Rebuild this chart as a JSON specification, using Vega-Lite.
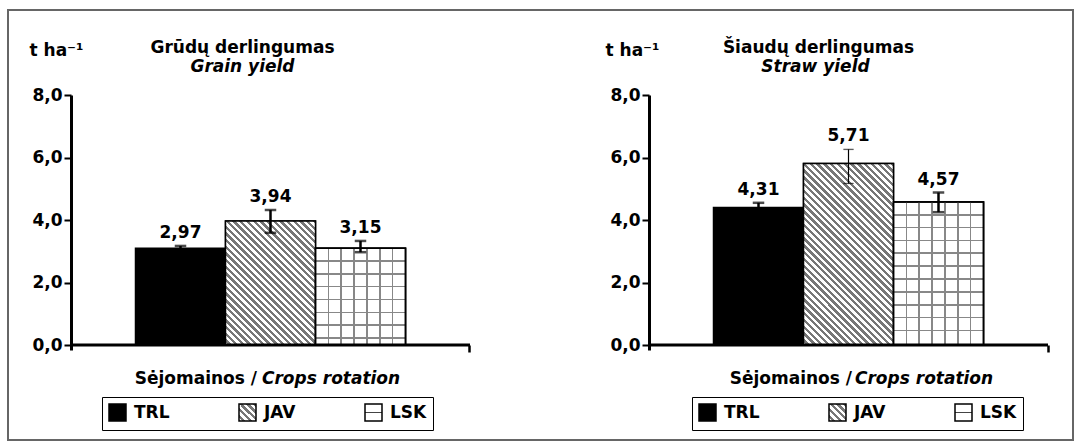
{
"$schema": "https://vega.github.io/schema/vega-lite/v6.json",
"width": 1065, "height": 430,
"autosize": {"type": "none"},
"padding": {"left": 8, "top": 10, "right": 7, "bottom": 8},
"background": "white",
"params": [
{"name": "javLegend", "value": {"gradient": "linear", "x1": 0, "y1": 1, "x2": 1, "y2": 0, "stops": [
{"offset":0,"color":"#fff"},{"offset":0.1,"color":"#fff"},{"offset":0.1,"color":"#777"},{"offset":0.2,"color":"#777"},
{"offset":0.2,"color":"#fff"},{"offset":0.3,"color":"#fff"},{"offset":0.3,"color":"#777"},{"offset":0.4,"color":"#777"},
{"offset":0.4,"color":"#fff"},{"offset":0.5,"color":"#fff"},{"offset":0.5,"color":"#777"},{"offset":0.6,"color":"#777"},
{"offset":0.6,"color":"#fff"},{"offset":0.7,"color":"#fff"},{"offset":0.7,"color":"#777"},{"offset":0.8,"color":"#777"},
{"offset":0.8,"color":"#fff"},{"offset":0.9,"color":"#fff"},{"offset":0.9,"color":"#777"},{"offset":1,"color":"#777"}]}},
{"name": "lskLegend", "value": {"gradient": "linear", "x1": 0, "y1": 0, "x2": 0, "y2": 1, "stops": [
{"offset":0,"color":"#fff"},{"offset":0.46,"color":"#fff"},{"offset":0.46,"color":"#444"},{"offset":0.54,"color":"#444"},{"offset":0.54,"color":"#fff"},{"offset":1,"color":"#fff"}]}}
],
"datasets": {"yields": [
{"panel": "Grūdų derlingumas", "crop": "TRL", "value": 3.10, "lo": 3.03, "hi": 3.17, "label": "2,97"},
{"panel": "Grūdų derlingumas", "crop": "JAV", "value": 3.97, "lo": 3.59, "hi": 4.32, "label": "3,94"},
{"panel": "Grūdų derlingumas", "crop": "LSK", "value": 3.10, "lo": 2.97, "hi": 3.33, "label": "3,15"},
{"panel": "Šiaudų derlingumas", "crop": "TRL", "value": 4.40, "lo": 4.25, "hi": 4.55, "label": "4,31"},
{"panel": "Šiaudų derlingumas", "crop": "JAV", "value": 5.81, "lo": 5.17, "hi": 6.26, "label": "5,71"},
{"panel": "Šiaudų derlingumas", "crop": "LSK", "value": 4.58, "lo": 4.25, "hi": 4.88, "label": "4,57"}
]},
"data": {"name": "yields"},
"layer": [
{
"transform": [{"filter": "datum.panel === 'Grūdų derlingumas'"}],
"mark": {"type": "bar", "stroke": "black", "strokeWidth": 1.5},
"encoding": {
"x": {"field": "panel", "type": "nominal",
"scale": {"domain": ["Grūdų derlingumas", "Šiaudų derlingumas"], "range": [63, 1040], "paddingInner": 0.3097, "paddingOuter": 0},
"axis": {"orient": "bottom", "offset": -95, "domain": false, "labels": false, "ticks": true, "tickSize": 7, "tickWidth": 2.5, "tickColor": "black", "bandPosition": 1, "title": null}},
"xOffset": {"field": "crop", "type": "nominal", "scale": {"domain": ["TRL", "JAV", "LSK"], "paddingInner": 0, "paddingOuter": 0.7167}},
"y": {"field": "value", "type": "quantitative", "scale": {"domain": [-0.16, 8], "range": [340, 85], "nice": false, "zero": false},
"axis": {"orient": "left", "offset": -63, "values": [0, 2, 4, 6, 8], "labelExpr": "replace(format(datum.value, '.1f'), '.', ',')", "domainColor": "black", "domainWidth": 3, "tickColor": "black", "tickWidth": 2, "tickSize": 7, "labelPadding": 2, "title": "t ha⁻¹", "titleAngle": 0, "titleAlign": "left", "titleBaseline": "alphabetic", "titleX": -42, "titleY": 45}},
"y2": {"datum": 0},
"fill": {"field": "crop", "type": "nominal", "scale": {"domain": ["TRL", "JAV", "LSK"], "range": ["black", {"expr": "javLegend"}, {"expr": "lskLegend"}]},
"legend": {"orient": "none", "legendX": 94, "legendY": 387, "direction": "horizontal", "columns": 3, "title": null, "strokeColor": "black", "padding": 6, "columnPadding": 66, "symbolType": "square", "symbolSize": 289, "symbolStrokeColor": "black", "symbolStrokeWidth": 1.5, "labelOffset": 7, "gridAlign": "each"}}
}
},
{
"transform": [{"filter": "datum.panel === 'Šiaudų derlingumas'"}],
"mark": {"type": "bar", "stroke": "black", "strokeWidth": 1.5},
"encoding": {
"x": {"field": "panel", "type": "nominal",
"axis": {"orient": "bottom", "offset": -95, "domain": false, "ticks": false, "tickSize": 0, "labelExpr": "'Crops rotation'", "labelFontStyle": "italic", "labelAlign": "left", "labelBaseline": "alphabetic", "labelPadding": 38, "labelAngle": 0, "labelOverlap": false, "labelFlush": false, "bandPosition": 0.5,
"labelOffset": {"condition": {"test": "datum.value === 'Grūdų derlingumas'", "value": -8.5}, "value": 6.5}, "title": null}},
"xOffset": {"field": "crop", "type": "nominal"},
"y": {"field": "value", "type": "quantitative",
"axis": {"orient": "left", "offset": -641, "values": [0, 2, 4, 6, 8], "labelExpr": "replace(format(datum.value, '.1f'), '.', ',')", "domainColor": "black", "domainWidth": 3, "tickColor": "black", "tickWidth": 2, "tickSize": 7, "labelPadding": 2, "title": "t ha⁻¹", "titleAngle": 0, "titleAlign": "left", "titleBaseline": "alphabetic", "titleX": -44, "titleY": 45}},
"y2": {"datum": 0},
"fill": {"field": "crop", "type": "nominal", "scale": {"domain": ["TRL", "JAV", "LSK"], "range": ["black", {"expr": "javLegend"}, {"expr": "lskLegend"}]},
"legend": {"orient": "none", "legendX": 684, "legendY": 387, "direction": "horizontal", "columns": 3, "title": null, "strokeColor": "black", "padding": 6, "columnPadding": 66, "symbolType": "square", "symbolSize": 289, "symbolStrokeColor": "black", "symbolStrokeWidth": 1.5, "labelOffset": 7, "gridAlign": "each"}}
}
},
{
"transform": [{"filter": "datum.panel === 'Grūdų derlingumas' && datum.crop === 'JAV'"}],
"mark": {"type": "bar", "stroke": "black", "strokeWidth": 1.5, "fill": {"gradient": "linear", "x1": 0, "y1": 1, "x2": 0.8201, "y2": -0.1305, "stops": [
{"offset":0,"color":"#fff"},{"offset":0.015625,"color":"#fff"},{"offset":0.015625,"color":"#777"},{"offset":0.03125,"color":"#777"},
{"offset":0.03125,"color":"#fff"},{"offset":0.046875,"color":"#fff"},{"offset":0.046875,"color":"#777"},{"offset":0.0625,"color":"#777"},
{"offset":0.0625,"color":"#fff"},{"offset":0.078125,"color":"#fff"},{"offset":0.078125,"color":"#777"},{"offset":0.09375,"color":"#777"},
{"offset":0.09375,"color":"#fff"},{"offset":0.109375,"color":"#fff"},{"offset":0.109375,"color":"#777"},{"offset":0.125,"color":"#777"},
{"offset":0.125,"color":"#fff"},{"offset":0.140625,"color":"#fff"},{"offset":0.140625,"color":"#777"},{"offset":0.15625,"color":"#777"},
{"offset":0.15625,"color":"#fff"},{"offset":0.171875,"color":"#fff"},{"offset":0.171875,"color":"#777"},{"offset":0.1875,"color":"#777"},
{"offset":0.1875,"color":"#fff"},{"offset":0.203125,"color":"#fff"},{"offset":0.203125,"color":"#777"},{"offset":0.21875,"color":"#777"},
{"offset":0.21875,"color":"#fff"},{"offset":0.234375,"color":"#fff"},{"offset":0.234375,"color":"#777"},{"offset":0.25,"color":"#777"},
{"offset":0.25,"color":"#fff"},{"offset":0.265625,"color":"#fff"},{"offset":0.265625,"color":"#777"},{"offset":0.28125,"color":"#777"},
{"offset":0.28125,"color":"#fff"},{"offset":0.296875,"color":"#fff"},{"offset":0.296875,"color":"#777"},{"offset":0.3125,"color":"#777"},
{"offset":0.3125,"color":"#fff"},{"offset":0.328125,"color":"#fff"},{"offset":0.328125,"color":"#777"},{"offset":0.34375,"color":"#777"},
{"offset":0.34375,"color":"#fff"},{"offset":0.359375,"color":"#fff"},{"offset":0.359375,"color":"#777"},{"offset":0.375,"color":"#777"},
{"offset":0.375,"color":"#fff"},{"offset":0.390625,"color":"#fff"},{"offset":0.390625,"color":"#777"},{"offset":0.40625,"color":"#777"},
{"offset":0.40625,"color":"#fff"},{"offset":0.421875,"color":"#fff"},{"offset":0.421875,"color":"#777"},{"offset":0.4375,"color":"#777"},
{"offset":0.4375,"color":"#fff"},{"offset":0.453125,"color":"#fff"},{"offset":0.453125,"color":"#777"},{"offset":0.46875,"color":"#777"},
{"offset":0.46875,"color":"#fff"},{"offset":0.484375,"color":"#fff"},{"offset":0.484375,"color":"#777"},{"offset":0.5,"color":"#777"},
{"offset":0.5,"color":"#fff"},{"offset":0.515625,"color":"#fff"},{"offset":0.515625,"color":"#777"},{"offset":0.53125,"color":"#777"},
{"offset":0.53125,"color":"#fff"},{"offset":0.546875,"color":"#fff"},{"offset":0.546875,"color":"#777"},{"offset":0.5625,"color":"#777"},
{"offset":0.5625,"color":"#fff"},{"offset":0.578125,"color":"#fff"},{"offset":0.578125,"color":"#777"},{"offset":0.59375,"color":"#777"},
{"offset":0.59375,"color":"#fff"},{"offset":0.609375,"color":"#fff"},{"offset":0.609375,"color":"#777"},{"offset":0.625,"color":"#777"},
{"offset":0.625,"color":"#fff"},{"offset":0.640625,"color":"#fff"},{"offset":0.640625,"color":"#777"},{"offset":0.65625,"color":"#777"},
{"offset":0.65625,"color":"#fff"},{"offset":0.671875,"color":"#fff"},{"offset":0.671875,"color":"#777"},{"offset":0.6875,"color":"#777"},
{"offset":0.6875,"color":"#fff"},{"offset":0.703125,"color":"#fff"},{"offset":0.703125,"color":"#777"},{"offset":0.71875,"color":"#777"},
{"offset":0.71875,"color":"#fff"},{"offset":0.734375,"color":"#fff"},{"offset":0.734375,"color":"#777"},{"offset":0.75,"color":"#777"},
{"offset":0.75,"color":"#fff"},{"offset":0.765625,"color":"#fff"},{"offset":0.765625,"color":"#777"},{"offset":0.78125,"color":"#777"},
{"offset":0.78125,"color":"#fff"},{"offset":0.796875,"color":"#fff"},{"offset":0.796875,"color":"#777"},{"offset":0.8125,"color":"#777"},
{"offset":0.8125,"color":"#fff"},{"offset":0.828125,"color":"#fff"},{"offset":0.828125,"color":"#777"},{"offset":0.84375,"color":"#777"},
{"offset":0.84375,"color":"#fff"},{"offset":0.859375,"color":"#fff"},{"offset":0.859375,"color":"#777"},{"offset":0.875,"color":"#777"},
{"offset":0.875,"color":"#fff"},{"offset":0.890625,"color":"#fff"},{"offset":0.890625,"color":"#777"},{"offset":0.90625,"color":"#777"},
{"offset":0.90625,"color":"#fff"},{"offset":0.921875,"color":"#fff"},{"offset":0.921875,"color":"#777"},{"offset":0.9375,"color":"#777"},
{"offset":0.9375,"color":"#fff"},{"offset":0.953125,"color":"#fff"},{"offset":0.953125,"color":"#777"},{"offset":0.96875,"color":"#777"},
{"offset":0.96875,"color":"#fff"},{"offset":0.984375,"color":"#fff"},{"offset":0.984375,"color":"#777"},{"offset":1,"color":"#777"}]}},
"encoding": {
"x": {"field": "panel", "type": "nominal",
"axis": {"orient": "bottom", "offset": -95, "domain": false, "ticks": false, "tickSize": 0, "labelExpr": "'Sėjomainos /'", "labelAlign": "right", "labelBaseline": "alphabetic", "labelPadding": 38, "labelAngle": 0, "labelOverlap": false, "labelFlush": false, "bandPosition": 0.5,
"labelOffset": {"condition": {"test": "datum.value === 'Grūdų derlingumas'", "value": -13.5}, "value": 3.5}, "title": null}},
"xOffset": {"field": "crop", "type": "nominal"},
"y": {"field": "value", "type": "quantitative", "axis": null},
"y2": {"datum": 0}
}
},
{
"transform": [{"filter": "datum.panel === 'Šiaudų derlingumas' && datum.crop === 'JAV'"}],
"mark": {"type": "bar", "stroke": "black", "strokeWidth": 1.5, "fill": {"gradient": "linear", "x1": 0, "y1": 1, "x2": 0.5952, "y2": -0.2007, "stops": [
{"offset":0,"color":"#fff"},{"offset":0.0125,"color":"#fff"},{"offset":0.0125,"color":"#777"},{"offset":0.025,"color":"#777"},
{"offset":0.025,"color":"#fff"},{"offset":0.0375,"color":"#fff"},{"offset":0.0375,"color":"#777"},{"offset":0.05,"color":"#777"},
{"offset":0.05,"color":"#fff"},{"offset":0.0625,"color":"#fff"},{"offset":0.0625,"color":"#777"},{"offset":0.075,"color":"#777"},
{"offset":0.075,"color":"#fff"},{"offset":0.0875,"color":"#fff"},{"offset":0.0875,"color":"#777"},{"offset":0.1,"color":"#777"},
{"offset":0.1,"color":"#fff"},{"offset":0.1125,"color":"#fff"},{"offset":0.1125,"color":"#777"},{"offset":0.125,"color":"#777"},
{"offset":0.125,"color":"#fff"},{"offset":0.1375,"color":"#fff"},{"offset":0.1375,"color":"#777"},{"offset":0.15,"color":"#777"},
{"offset":0.15,"color":"#fff"},{"offset":0.1625,"color":"#fff"},{"offset":0.1625,"color":"#777"},{"offset":0.175,"color":"#777"},
{"offset":0.175,"color":"#fff"},{"offset":0.1875,"color":"#fff"},{"offset":0.1875,"color":"#777"},{"offset":0.2,"color":"#777"},
{"offset":0.2,"color":"#fff"},{"offset":0.2125,"color":"#fff"},{"offset":0.2125,"color":"#777"},{"offset":0.225,"color":"#777"},
{"offset":0.225,"color":"#fff"},{"offset":0.2375,"color":"#fff"},{"offset":0.2375,"color":"#777"},{"offset":0.25,"color":"#777"},
{"offset":0.25,"color":"#fff"},{"offset":0.2625,"color":"#fff"},{"offset":0.2625,"color":"#777"},{"offset":0.275,"color":"#777"},
{"offset":0.275,"color":"#fff"},{"offset":0.2875,"color":"#fff"},{"offset":0.2875,"color":"#777"},{"offset":0.3,"color":"#777"},
{"offset":0.3,"color":"#fff"},{"offset":0.3125,"color":"#fff"},{"offset":0.3125,"color":"#777"},{"offset":0.325,"color":"#777"},
{"offset":0.325,"color":"#fff"},{"offset":0.3375,"color":"#fff"},{"offset":0.3375,"color":"#777"},{"offset":0.35,"color":"#777"},
{"offset":0.35,"color":"#fff"},{"offset":0.3625,"color":"#fff"},{"offset":0.3625,"color":"#777"},{"offset":0.375,"color":"#777"},
{"offset":0.375,"color":"#fff"},{"offset":0.3875,"color":"#fff"},{"offset":0.3875,"color":"#777"},{"offset":0.4,"color":"#777"},
{"offset":0.4,"color":"#fff"},{"offset":0.4125,"color":"#fff"},{"offset":0.4125,"color":"#777"},{"offset":0.425,"color":"#777"},
{"offset":0.425,"color":"#fff"},{"offset":0.4375,"color":"#fff"},{"offset":0.4375,"color":"#777"},{"offset":0.45,"color":"#777"},
{"offset":0.45,"color":"#fff"},{"offset":0.4625,"color":"#fff"},{"offset":0.4625,"color":"#777"},{"offset":0.475,"color":"#777"},
{"offset":0.475,"color":"#fff"},{"offset":0.4875,"color":"#fff"},{"offset":0.4875,"color":"#777"},{"offset":0.5,"color":"#777"},
{"offset":0.5,"color":"#fff"},{"offset":0.5125,"color":"#fff"},{"offset":0.5125,"color":"#777"},{"offset":0.525,"color":"#777"},
{"offset":0.525,"color":"#fff"},{"offset":0.5375,"color":"#fff"},{"offset":0.5375,"color":"#777"},{"offset":0.55,"color":"#777"},
{"offset":0.55,"color":"#fff"},{"offset":0.5625,"color":"#fff"},{"offset":0.5625,"color":"#777"},{"offset":0.575,"color":"#777"},
{"offset":0.575,"color":"#fff"},{"offset":0.5875,"color":"#fff"},{"offset":0.5875,"color":"#777"},{"offset":0.6,"color":"#777"},
{"offset":0.6,"color":"#fff"},{"offset":0.6125,"color":"#fff"},{"offset":0.6125,"color":"#777"},{"offset":0.625,"color":"#777"},
{"offset":0.625,"color":"#fff"},{"offset":0.6375,"color":"#fff"},{"offset":0.6375,"color":"#777"},{"offset":0.65,"color":"#777"},
{"offset":0.65,"color":"#fff"},{"offset":0.6625,"color":"#fff"},{"offset":0.6625,"color":"#777"},{"offset":0.675,"color":"#777"},
{"offset":0.675,"color":"#fff"},{"offset":0.6875,"color":"#fff"},{"offset":0.6875,"color":"#777"},{"offset":0.7,"color":"#777"},
{"offset":0.7,"color":"#fff"},{"offset":0.7125,"color":"#fff"},{"offset":0.7125,"color":"#777"},{"offset":0.725,"color":"#777"},
{"offset":0.725,"color":"#fff"},{"offset":0.7375,"color":"#fff"},{"offset":0.7375,"color":"#777"},{"offset":0.75,"color":"#777"},
{"offset":0.75,"color":"#fff"},{"offset":0.7625,"color":"#fff"},{"offset":0.7625,"color":"#777"},{"offset":0.775,"color":"#777"},
{"offset":0.775,"color":"#fff"},{"offset":0.7875,"color":"#fff"},{"offset":0.7875,"color":"#777"},{"offset":0.8,"color":"#777"},
{"offset":0.8,"color":"#fff"},{"offset":0.8125,"color":"#fff"},{"offset":0.8125,"color":"#777"},{"offset":0.825,"color":"#777"},
{"offset":0.825,"color":"#fff"},{"offset":0.8375,"color":"#fff"},{"offset":0.8375,"color":"#777"},{"offset":0.85,"color":"#777"},
{"offset":0.85,"color":"#fff"},{"offset":0.8625,"color":"#fff"},{"offset":0.8625,"color":"#777"},{"offset":0.875,"color":"#777"},
{"offset":0.875,"color":"#fff"},{"offset":0.8875,"color":"#fff"},{"offset":0.8875,"color":"#777"},{"offset":0.9,"color":"#777"},
{"offset":0.9,"color":"#fff"},{"offset":0.9125,"color":"#fff"},{"offset":0.9125,"color":"#777"},{"offset":0.925,"color":"#777"},
{"offset":0.925,"color":"#fff"},{"offset":0.9375,"color":"#fff"},{"offset":0.9375,"color":"#777"},{"offset":0.95,"color":"#777"},
{"offset":0.95,"color":"#fff"},{"offset":0.9625,"color":"#fff"},{"offset":0.9625,"color":"#777"},{"offset":0.975,"color":"#777"},
{"offset":0.975,"color":"#fff"},{"offset":0.9875,"color":"#fff"},{"offset":0.9875,"color":"#777"},{"offset":1,"color":"#777"}]}},
"encoding": {
"x": {"field": "panel", "type": "nominal",
"axis": {"orient": "top", "offset": -42, "domain": false, "ticks": false, "tickSize": 0, "labelAlign": "center", "labelBaseline": "alphabetic", "labelPadding": 0, "labelAngle": 0, "labelOverlap": false, "labelFlush": false, "labelLimit": 400, "bandPosition": 0.5,
"labelOffset": {"condition": {"test": "datum.value === 'Grūdų derlingumas'", "value": -28}, "value": -30}, "title": null}},
"xOffset": {"field": "crop", "type": "nominal"},
"y": {"field": "value", "type": "quantitative", "axis": null},
"y2": {"datum": 0}
}
},
{
"transform": [{"filter": "datum.panel === 'Grūdų derlingumas' && datum.crop === 'LSK'"}],
"mark": {"type": "bar", "stroke": "black", "strokeWidth": 1.5, "fill": {"gradient": "linear", "x1": 0, "y1": 0, "x2": 0, "y2": 1, "stops": [
{"offset":0,"color":"#fff"},
{"offset":0.1245,"color":"#fff"},{"offset":0.1245,"color":"#888"},{"offset":0.1410,"color":"#888"},{"offset":0.1410,"color":"#fff"},
{"offset":0.2572,"color":"#fff"},{"offset":0.2572,"color":"#888"},{"offset":0.2737,"color":"#888"},{"offset":0.2737,"color":"#fff"},
{"offset":0.3899,"color":"#fff"},{"offset":0.3899,"color":"#888"},{"offset":0.4064,"color":"#888"},{"offset":0.4064,"color":"#fff"},
{"offset":0.5226,"color":"#fff"},{"offset":0.5226,"color":"#888"},{"offset":0.5391,"color":"#888"},{"offset":0.5391,"color":"#fff"},
{"offset":0.6553,"color":"#fff"},{"offset":0.6553,"color":"#888"},{"offset":0.6719,"color":"#888"},{"offset":0.6719,"color":"#fff"},
{"offset":0.7881,"color":"#fff"},{"offset":0.7881,"color":"#888"},{"offset":0.8046,"color":"#888"},{"offset":0.8046,"color":"#fff"},
{"offset":0.9208,"color":"#fff"},{"offset":0.9208,"color":"#888"},{"offset":0.9373,"color":"#888"},{"offset":0.9373,"color":"#fff"},
{"offset":1,"color":"#fff"}]}},
"encoding": {
"x": {"field": "panel", "type": "nominal",
"axis": {"orient": "top", "offset": -61, "domain": false, "ticks": false, "tickSize": 0, "labelExpr": "datum.value === 'Grūdų derlingumas' ? 'Grain yield' : 'Straw yield'", "labelFontStyle": "italic", "labelAlign": "center", "labelBaseline": "alphabetic", "labelPadding": 0, "labelAngle": 0, "labelOverlap": false, "labelFlush": false, "bandPosition": 0.5,
"labelOffset": {"condition": {"test": "datum.value === 'Grūdų derlingumas'", "value": -28}, "value": -33}, "title": null}},
"xOffset": {"field": "crop", "type": "nominal"},
"y": {"field": "value", "type": "quantitative", "axis": null},
"y2": {"datum": 0}
}
},
{
"transform": [{"filter": "datum.panel === 'Šiaudų derlingumas' && datum.crop === 'LSK'"}],
"mark": {"type": "bar", "stroke": "black", "strokeWidth": 1.5, "fill": {"gradient": "linear", "x1": 0, "y1": 0, "x2": 0, "y2": 1, "stops": [
{"offset":0,"color":"#fff"},
{"offset":0.0842,"color":"#fff"},{"offset":0.0842,"color":"#888"},{"offset":0.0954,"color":"#888"},{"offset":0.0954,"color":"#fff"},
{"offset":0.1741,"color":"#fff"},{"offset":0.1741,"color":"#888"},{"offset":0.1853,"color":"#888"},{"offset":0.1853,"color":"#fff"},
{"offset":0.2639,"color":"#fff"},{"offset":0.2639,"color":"#888"},{"offset":0.2751,"color":"#888"},{"offset":0.2751,"color":"#fff"},
{"offset":0.3537,"color":"#fff"},{"offset":0.3537,"color":"#888"},{"offset":0.3649,"color":"#888"},{"offset":0.3649,"color":"#fff"},
{"offset":0.4436,"color":"#fff"},{"offset":0.4436,"color":"#888"},{"offset":0.4548,"color":"#888"},{"offset":0.4548,"color":"#fff"},
{"offset":0.5334,"color":"#fff"},{"offset":0.5334,"color":"#888"},{"offset":0.5446,"color":"#888"},{"offset":0.5446,"color":"#fff"},
{"offset":0.6232,"color":"#fff"},{"offset":0.6232,"color":"#888"},{"offset":0.6344,"color":"#888"},{"offset":0.6344,"color":"#fff"},
{"offset":0.7131,"color":"#fff"},{"offset":0.7131,"color":"#888"},{"offset":0.7242,"color":"#888"},{"offset":0.7242,"color":"#fff"},
{"offset":0.8029,"color":"#fff"},{"offset":0.8029,"color":"#888"},{"offset":0.8141,"color":"#888"},{"offset":0.8141,"color":"#fff"},
{"offset":0.8927,"color":"#fff"},{"offset":0.8927,"color":"#888"},{"offset":0.9039,"color":"#888"},{"offset":0.9039,"color":"#fff"},
{"offset":1,"color":"#fff"}]}},
"encoding": {
"x": {"field": "panel", "type": "nominal", "axis": null},
"xOffset": {"field": "crop", "type": "nominal"},
"y": {"field": "value", "type": "quantitative", "axis": null},
"y2": {"datum": 0}
}
},
{
"transform": [{"filter": "datum.crop === 'LSK'"}],
"mark": {"type": "bar", "stroke": "black", "strokeWidth": 1.5, "fill": {"gradient": "linear", "x1": 0, "y1": 0, "x2": 1, "y2": 0, "stops": [
{"offset":0,"color":"rgba(255,255,255,0)"},
{"offset":0.1340,"color":"rgba(255,255,255,0)"},{"offset":0.1340,"color":"#888"},{"offset":0.1518,"color":"#888"},{"offset":0.1518,"color":"rgba(255,255,255,0)"},
{"offset":0.2768,"color":"rgba(255,255,255,0)"},{"offset":0.2768,"color":"#888"},{"offset":0.2946,"color":"#888"},{"offset":0.2946,"color":"rgba(255,255,255,0)"},
{"offset":0.4197,"color":"rgba(255,255,255,0)"},{"offset":0.4197,"color":"#888"},{"offset":0.4375,"color":"#888"},{"offset":0.4375,"color":"rgba(255,255,255,0)"},
{"offset":0.5625,"color":"rgba(255,255,255,0)"},{"offset":0.5625,"color":"#888"},{"offset":0.5803,"color":"#888"},{"offset":0.5803,"color":"rgba(255,255,255,0)"},
{"offset":0.7054,"color":"rgba(255,255,255,0)"},{"offset":0.7054,"color":"#888"},{"offset":0.7232,"color":"#888"},{"offset":0.7232,"color":"rgba(255,255,255,0)"},
{"offset":0.8482,"color":"rgba(255,255,255,0)"},{"offset":0.8482,"color":"#888"},{"offset":0.8660,"color":"#888"},{"offset":0.8660,"color":"rgba(255,255,255,0)"},
{"offset":1,"color":"rgba(255,255,255,0)"}]}},
"encoding": {
"x": {"field": "panel", "type": "nominal", "axis": null},
"xOffset": {"field": "crop", "type": "nominal"},
"y": {"field": "value", "type": "quantitative", "axis": null},
"y2": {"datum": 0}
}
},
{
"transform": [{"aggregate": [{"op": "count", "as": "n"}], "groupby": ["panel"]}],
"mark": {"type": "bar", "fill": "black", "stroke": "black", "strokeWidth": 3},
"encoding": {
"x": {"field": "panel", "type": "nominal", "axis": null},
"y": {"datum": 0, "type": "quantitative", "axis": null},
"y2": {"datum": 0}
}
},
{
"mark": {"type": "rule", "color": "black"},
"encoding": {
"x": {"field": "panel", "type": "nominal", "axis": null},
"xOffset": {"field": "crop", "type": "nominal"},
"y": {"field": "lo", "type": "quantitative", "axis": null},
"y2": {"field": "hi"},
"strokeWidth": {"condition": {"test": "datum.panel === 'Šiaudų derlingumas' && datum.crop === 'JAV'", "value": 1.2}, "value": 2.5}
}
},
{
"mark": {"type": "tick", "color": "black", "size": 10, "thickness": 1, "stroke": "black", "filled": true},
"encoding": {
"x": {"field": "panel", "type": "nominal", "axis": null},
"xOffset": {"field": "crop", "type": "nominal"},
"y": {"field": "lo", "type": "quantitative", "axis": null},
"strokeWidth": {"condition": {"test": "datum.panel === 'Šiaudų derlingumas' && datum.crop === 'JAV'", "value": 0.2}, "value": 1.5}
}
},
{
"mark": {"type": "tick", "color": "black", "size": 10, "thickness": 1, "stroke": "black", "filled": true},
"encoding": {
"x": {"field": "panel", "type": "nominal", "axis": null},
"xOffset": {"field": "crop", "type": "nominal"},
"y": {"field": "hi", "type": "quantitative", "axis": null},
"strokeWidth": {"condition": {"test": "datum.panel === 'Šiaudų derlingumas' && datum.crop === 'JAV'", "value": 0.2}, "value": 1.5}
}
},
{
"mark": {"type": "text", "font": "DejaVu Sans", "fontSize": 17, "fontWeight": "bold", "color": "black", "align": "center", "baseline": "alphabetic", "dy": -8},
"encoding": {
"x": {"field": "panel", "type": "nominal", "axis": null},
"xOffset": {"field": "crop", "type": "nominal"},
"y": {"field": "hi", "type": "quantitative", "axis": null},
"text": {"field": "label"}
}
}
],
"resolve": {"scale": {"fill": "independent"}, "legend": {"fill": "independent"}, "axis": {"x": "independent", "y": "independent"}},
"config": {
"view": {"stroke": "#666666", "strokeWidth": 2},
"font": "DejaVu Sans",
"axis": {"labelFont": "DejaVu Sans", "labelFontSize": 17, "labelFontWeight": "bold", "labelColor": "black", "titleFont": "DejaVu Sans", "titleFontSize": 17, "titleFontWeight": "bold", "titleColor": "black", "grid": false},
"legend": {"labelFont": "DejaVu Sans", "labelFontSize": 17, "labelFontWeight": "bold", "labelColor": "black"}
}
}
